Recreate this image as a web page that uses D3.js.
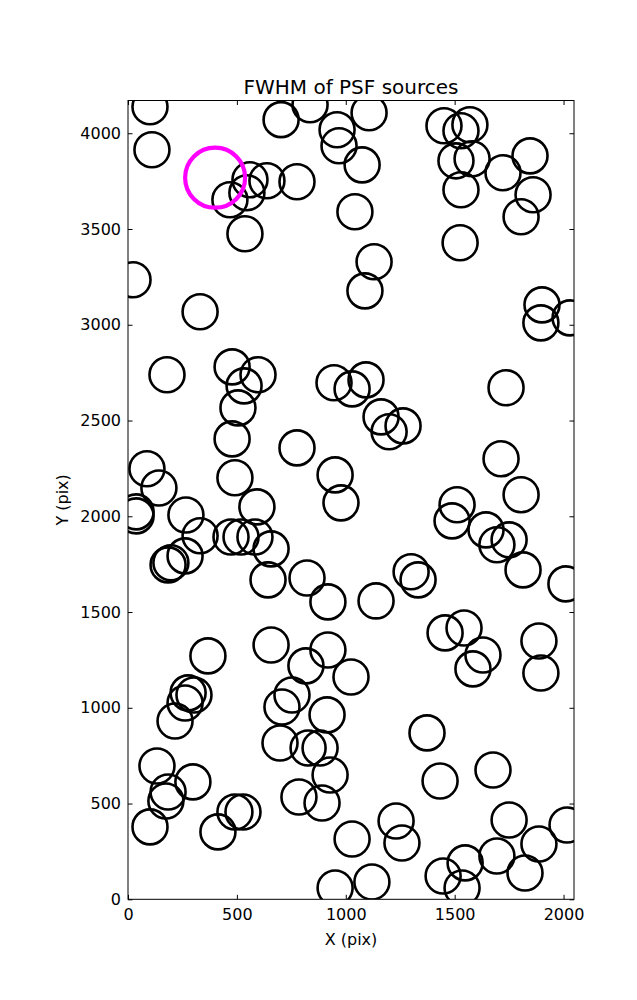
<!DOCTYPE html>
<html>
<head>
<meta charset="utf-8">
<script src="https://cdn.jsdelivr.net/npm/d3@7"></script>
<style>
  html, body { margin: 0; padding: 0; background: #fff; }
  svg text { font-family: "DejaVu Sans", sans-serif; }
</style>
</head>
<body>
<div id="chart"></div>
<script>
// Source positions (pixels on detector)
const srcX = [101,110,468,560,546,638,776,537,23,331,703,836,960,969,1075,1107,1042,1130,1088,1451,1570,1529,1506,1580,1529,1722,1846,1860,1805,1525,1901,1896,2030,
  179,478,597,533,505,478,491,592,776,946,1029,1093,1162,1263,1199,951,978,1736,87,142,37,37,266,331,473,519,583,657,262,184,197,643,822,918,
  1713,1805,1511,1488,1644,1750,1694,1814,2011,1300,1332,1139,
  367,276,303,262,216,133,184,174,298,101,413,491,528,657,817,918,1024,753,707,914,698,827,882,928,785,891,1029,951,
  1456,1543,1630,1584,1887,1896,1373,1433,1676,1231,1258,1750,1887,2016,1694,1823,1120,1447,1548,1534];
const srcY = [4138,3914,3653,3757,3689,3752,3747,3475,3235,3068,4071,4149,4018,3935,3835,4107,3590,3329,3177,4039,4044,4013,3856,3867,3705,3794,3882,3679,3564,3428,3104,3010,3036,
  2739,2780,2739,2681,2566,2404,2201,2049,2357,2697,2665,2712,2519,2472,2441,2216,2070,2671,2248,2148,2023,2002,2007,1898,1892,1892,1892,1830,1793,1746,1757,1668,1678,1553,
  2300,2112,2060,1976,1929,1877,1851,1720,1647,1710,1668,1558,
  1271,1078,1067,1025,931,696,560,513,613,378,352,456,456,1328,1219,1302,1161,1067,1004,963,816,790,790,649,534,503,315,59,
  1391,1417,1276,1203,1349,1182,869,618,675,409,294,414,289,388,226,137,90,122,190,59];
// Highlighted source
const hiX = [400];
const hiY = [3768];
// Axis settings
const xDomain = [0, 2048];
const yDomain = [0, 4171];
const xTicks = [0, 500, 1000, 1500, 2000];
const yTicks = [0, 500, 1000, 1500, 2000, 2500, 3000, 3500, 4000];
const titleText = "FWHM of PSF sources";
const xLabel = "X (pix)";
const yLabel = "Y (pix)";

const W = 637, H = 1000;
const m = { left: 128, right: 637 - 574, top: 100.5, bottom: 1000 - 899.3 };
const iw = W - m.left - m.right, ih = H - m.top - m.bottom;

const svg = d3.select("#chart").append("svg").attr("width", W).attr("height", H);
const g = svg.append("g").attr("transform", `translate(${m.left},${m.top})`);

const x = d3.scaleLinear().domain(xDomain).range([0, iw]);
const y = d3.scaleLinear().domain(yDomain).range([ih, 0]);

svg.append("defs").append("clipPath").attr("id", "clip")
  .append("rect").attr("width", iw).attr("height", ih);

const plot = g.append("g").attr("clip-path", "url(#clip)");
const pts = srcX.map((v, i) => ({ x: v, y: srcY[i] }));
plot.selectAll("circle.src").data(pts).join("circle")
  .attr("class", "src")
  .attr("cx", d => x(d.x)).attr("cy", d => y(d.y)).attr("r", 17.5)
  .attr("fill", "none").attr("stroke", "#000").attr("stroke-width", 2.6);
plot.selectAll("circle.hi").data(hiX.map((v, i) => ({ x: v, y: hiY[i] }))).join("circle")
  .attr("class", "hi")
  .attr("cx", d => x(d.x)).attr("cy", d => y(d.y)).attr("r", 30)
  .attr("fill", "none").attr("stroke", "#ff00ff").attr("stroke-width", 4.2);

// Axes with inward ticks on all sides
const tl = 4.5;
const fs = "16px";
const fmt = d3.format("d");
const axB = g.append("g").attr("transform", `translate(0,${ih})`)
  .call(d3.axisBottom(x).tickValues(xTicks).tickFormat(fmt).tickSizeInner(-tl).tickSizeOuter(0).tickPadding(9));
const axT = g.append("g")
  .call(d3.axisTop(x).tickValues(xTicks).tickSizeInner(-tl).tickSizeOuter(0).tickFormat(""));
const axL = g.append("g")
  .call(d3.axisLeft(y).tickValues(yTicks).tickFormat(fmt).tickSizeInner(-tl).tickSizeOuter(0).tickPadding(7));
const axR = g.append("g").attr("transform", `translate(${iw},0)`)
  .call(d3.axisRight(y).tickValues(yTicks).tickSizeInner(-tl).tickSizeOuter(0).tickFormat(""));
[axB, axT, axL, axR].forEach(a => {
  a.select(".domain").remove();
  a.selectAll("line").attr("stroke", "#000").attr("stroke-width", 1);
  a.selectAll("text").attr("font-size", fs).attr("fill", "#000")
    .attr("font-family", "DejaVu Sans, sans-serif");
});

g.append("rect").attr("width", iw).attr("height", ih)
  .attr("fill", "none").attr("stroke", "#000").attr("stroke-width", 1);

svg.append("text").attr("x", m.left + iw / 2).attr("y", 94)
  .attr("text-anchor", "middle").attr("font-size", "20px").text(titleText);
svg.append("text").attr("x", m.left + iw / 2).attr("y", 945)
  .attr("text-anchor", "middle").attr("font-size", fs).text(xLabel);
svg.append("text").attr("transform", `translate(68,${m.top + ih / 2}) rotate(-90)`)
  .attr("text-anchor", "middle").attr("font-size", fs).text(yLabel);
</script>
</body>
</html>
